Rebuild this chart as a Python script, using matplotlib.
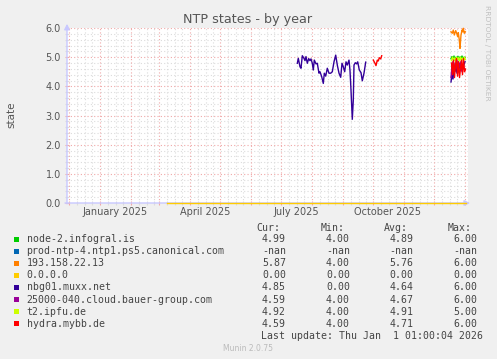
import matplotlib.pyplot as plt
import numpy as np

W, H = 497, 359

# day 0 = 2025-01-01
month_starts = np.arange('2024-12', '2026-02', dtype='datetime64[M]')
day0 = np.datetime64('2025-01-01')
month_labels = ['January 2025', 'April 2025', 'July 2025', 'October 2025']
month_label_dates = ['2025-01-16', '2025-04-16', '2025-07-16', '2025-10-16']
y_ticks = [0.0, 1.0, 2.0, 3.0, 4.0, 5.0, 6.0]

# series (day offset, value)
nbg01_days = [197.3, 198.3, 200, 201, 202.3, 204, 205, 206, 207.3, 208.7, 210, 211,
              212.3, 213.3, 214.3, 216, 217.3, 219, 220, 221.7, 223.3, 224.3, 225.7,
              227.3, 229, 230.7, 232.3, 234, 235.7, 237.3, 239, 240.7, 242, 243.3,
              244.7, 246, 247.3, 249, 250, 251, 252.3, 253.3, 254, 255.3, 256.7,
              257.7, 259.3, 261, 262.3, 264, 265.7, 266,
              351, 352, 353, 354, 355, 356, 357, 358, 359, 360, 361, 362, 363, 364, 365]
nbg01_vals = [4.79, 4.96, 4.67, 4.62, 5.05, 4.96, 4.88, 5.02, 4.79, 4.95, 4.88, 4.94,
              4.79, 4.56, 4.90, 4.77, 4.79, 4.45, 4.50, 4.33, 4.10, 4.45, 4.35,
              4.62, 4.45, 4.45, 4.50, 4.84, 5.07, 4.73, 4.45, 4.31, 4.79, 4.67,
              4.50, 4.84, 4.73, 4.90, 4.54, 3.87, 2.87, 3.53, 4.73, 4.81, 4.77,
              4.84, 4.56, 4.47, 4.19, 4.45, 4.83, np.nan,
              4.15, 4.40, 4.25, 4.60, 4.50, 4.70, 4.45, 4.75, 4.60, 4.80, 4.55, 4.70,
              4.60, 4.75, 4.85]

node2_days = [351, 352, 353, 354, 355, 356, 357, 358, 359, 360, 361, 362, 363, 364, 365]
node2_vals = [4.95, 5.02, 4.92, 5.04, 4.90, 5.00, 4.96, 5.03, 4.90, 5.01, 4.95, 5.04,
              4.93, 5.00, 4.99]

ip193_days = [351, 352.3, 353.3, 354.3, 355.7, 356.7, 357.7, 358.3, 359.3, 360, 361,
              362, 362.7, 363.3, 364.3, 365.3]
ip193_vals = [5.87, 5.82, 5.93, 5.76, 5.91, 5.82, 5.70, 5.84, 5.59, 5.30, 5.76,
              5.93, 5.87, 5.99, 5.82, 5.87]

zero_days = [67, 366]
zero_vals = [0.0, 0.0]

bauer_days = [351, 352, 353, 354, 355, 356, 357, 358, 359, 360, 361, 362, 363, 364, 365]
bauer_vals = [4.30, 4.70, 4.85, 4.50, 4.80, 4.60, 4.90, 4.55, 4.80, 4.65, 4.85, 4.50,
              4.75, 4.60, 4.59]

t2_days = [351.5, 352.5, 353.5, 354.5, 355.5, 356.5, 357.5, 358.5, 359.5, 360.5,
           361.5, 362.5, 363.5, 364.5, 365.3]
t2_vals = [4.88, 5.00, 4.90, 4.97, 4.86, 5.00, 4.92, 4.98, 4.87, 5.00, 4.90, 4.97,
           4.88, 5.00, 4.92]

hydra_days = [273.3, 275, 276, 277.3, 278.3, 279.3, 280.7, 281.7, np.nan,
              351.5, 352.5, 353.5, 354.5, 355.5, 356.5, 357.5, 358.5, 359.5, 360.5,
              361.5, 362.5, 363.5, 364.5, 365.5]
hydra_vals = [4.90, 4.79, 4.71, 4.90, 4.87, 4.98, 4.94, 5.05, np.nan,
              4.80, 4.40, 4.90, 4.30, 4.75, 4.95, 4.35, 4.85, 4.30, 4.60,
              4.90, 4.40, 4.95, 4.50, 4.59]

names = ['node-2.infogral.is', 'prod-ntp-4.ntp1.ps5.canonical.com', '193.158.22.13',
         '0.0.0.0', 'nbg01.muxx.net', '25000-040.cloud.bauer-group.com', 't2.ipfu.de',
         'hydra.mybb.de']
colors = ['#00CC00', '#0066B3', '#FF8000', '#FFCC00', '#330099', '#990099',
          '#CCFF00', '#FF0000']
cur = ['4.99', '-nan', '5.87', '0.00', '4.85', '4.59', '4.92', '4.59']
mins = ['4.00', '-nan', '4.00', '0.00', '0.00', '4.00', '4.00', '4.00']
avgs = ['4.89', '-nan', '5.76', '0.00', '4.64', '4.67', '4.91', '4.71']
maxs = ['6.00', '-nan', '6.00', '0.00', '6.00', '6.00', '5.00', '6.00']

series = [(node2_days, node2_vals), ([], []), (ip193_days, ip193_vals),
          (zero_days, zero_vals), (nbg01_days, nbg01_vals), (bauer_days, bauer_vals),
          (t2_days, t2_vals), (hydra_days, hydra_vals)]

txt = '#555555'
axis_c = '#C8C8FF'
major_c = '#F0A8A8'
minor_c = '#DCDCDC'

fig = plt.figure(figsize=(W / 100, H / 100), dpi=100, facecolor='#F0F0F0')
ax = fig.add_axes([67 / W, (H - 203) / H, (468 - 67) / W, (203 - 28) / H])
ax.set_facecolor('white')
ax.set_xlim(-33, 368)
ax.set_ylim(0, 6)
for s in ax.spines.values():
    s.set_visible(False)

# grid: months major, ~weekly minor
major_x = (month_starts - day0).astype(int)
minor_x = np.concatenate([major_x[:-1] + k for k in (8, 16, 23)])
for x in minor_x:
    ax.axvline(x, color=minor_c, lw=0.8, ls=(0, (1, 2)), zorder=1)
for y in np.arange(0.2, 6.01, 0.2):
    if abs(y - round(y)) > 0.01:
        ax.axhline(y, color=minor_c, lw=0.8, ls=(0, (1, 2)), zorder=1)
for x in major_x:
    ax.axvline(x, color=major_c, lw=0.8, ls=(0, (1, 2)), zorder=2)
for y in y_ticks[1:]:
    ax.axhline(y, color=major_c, lw=0.8, ls=(0, (1, 2)), zorder=2)

ax.set_yticks(y_ticks)
ax.set_yticklabels([f'{v:.1f}' for v in y_ticks])
ax.set_yticks(np.arange(0, 6.01, 0.2), minor=True)
ax.set_xticks(major_x)
ax.set_xticklabels([''] * len(major_x))
ax.set_xticks(minor_x, minor=True)
ax.tick_params(axis='both', which='major', direction='inout', length=3, width=0.8,
               color=major_c, labelcolor=txt, labelsize=7)
ax.tick_params(axis='both', which='minor', direction='inout', length=3, width=0.8,
               color=minor_c)
ax.tick_params(axis='y', pad=3)

label_x = (np.array(month_label_dates, dtype='datetime64[D]') - day0).astype(int)
for lx, lab in zip(label_x, month_labels):
    ax.text(lx, -0.3, lab, ha='center', va='center', color=txt, fontsize=7)

ax.annotate('', xy=(0, 1.04), xytext=(0, -0.02), xycoords='axes fraction',
            arrowprops=dict(arrowstyle='-|>', color=axis_c, lw=1, mutation_scale=8),
            annotation_clip=False)
ax.annotate('', xy=(1.012, 0), xytext=(-0.012, 0), xycoords='axes fraction',
            arrowprops=dict(arrowstyle='-|>', color=axis_c, lw=1, mutation_scale=8),
            annotation_clip=False)

for (d, v), c in zip(series, colors):
    if len(d):
        ax.plot(d, v, color=c, lw=1.0, zorder=5, clip_on=False)

ov = fig.add_axes([0, 0, 1, 1], facecolor='none')
ov.set_xlim(0, W)
ov.set_ylim(H, 0)
ov.axis('off')

ov.text(248, 19, 'NTP states - by year', ha='center', va='center', color=txt, fontsize=9.2)
ov.text(11, 115, 'state', ha='center', va='center', rotation=90, color=txt, fontsize=7.5)
ov.text(487, 53, 'RRDTOOL / TOBI OETIKER', ha='center', va='center', rotation=270,
        color='#C0C0C0', fontsize=5.4)

mono = dict(family='DejaVu Sans Mono', fontsize=7.1, color='#444444', va='center')
cols = [286, 350, 413.5, 477]
for cx, head in zip(cols, ['Cur:', 'Min:', 'Avg:', 'Max:']):
    ov.text(cx - 5.5, 228.3, head, ha='right', **mono)
for i, name in enumerate(names):
    y = 239.3 + 12.05 * i
    ov.add_patch(plt.Rectangle((14, y - 2.5), 5, 5, color=colors[i], lw=0))
    ov.text(26.5, y, name, ha='left', **mono)
    for cx, val in zip(cols, [cur[i], mins[i], avgs[i], maxs[i]]):
        ov.text(cx, y, val, ha='right', **mono)
ov.text(483, 336, 'Last update: Thu Jan  1 01:00:04 2026', ha='right', **mono)
ov.text(248, 348.7, 'Munin 2.0.75', ha='center', va='center', color='#BBBBBB', fontsize=5.5)

fig.savefig('out.png', dpi=100, facecolor=fig.get_facecolor())
